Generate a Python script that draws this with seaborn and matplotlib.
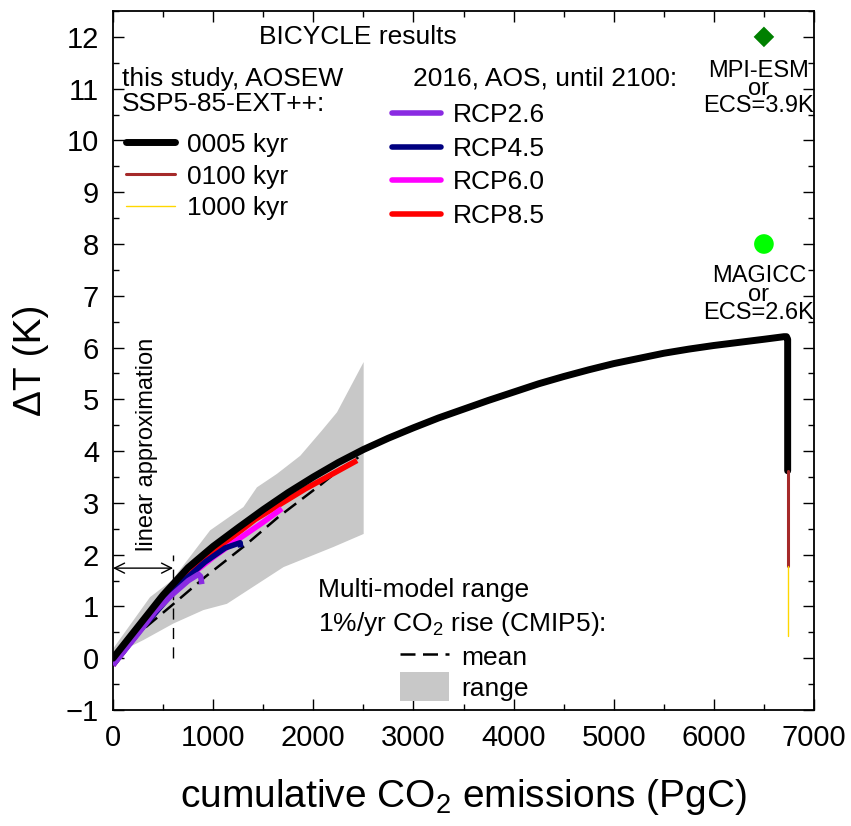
import numpy as np
import pandas as pd
import matplotlib
matplotlib.use("Agg")
import matplotlib.pyplot as plt
from matplotlib.lines import Line2D
from matplotlib.patches import Patch
import seaborn as sns

# ---------------- data ----------------
bic_x = [0, 250, 500, 750, 1000, 1250, 1500, 1750, 2000, 2250, 2500, 2750, 3000, 3250,
         3500, 3750, 4000, 4250, 4500, 4750, 5000, 5250, 5500, 5750, 6000, 6250, 6500,
         6700, 6725, 6737, 6737]
bic_y = [0.0, 0.61, 1.22, 1.75, 2.16, 2.52, 2.87, 3.20, 3.50, 3.78, 4.03, 4.25, 4.45, 4.64,
         4.81, 4.98, 5.14, 5.30, 5.44, 5.57, 5.69, 5.79, 5.89, 5.97, 6.04, 6.10, 6.16,
         6.21, 6.21, 6.16, 3.62]
k100_x = [6737, 6737]
k100_y = [3.62, 1.79]
k1000_x = [6737, 6737]
k1000_y = [1.79, 0.42]

rcp26_x = [0, 253, 420, 587, 753, 853, 875, 887]
rcp26_y = [-0.13, 0.48, 0.90, 1.22, 1.50, 1.62, 1.58, 1.43]
rcp45_x = [0, 253, 587, 720, 920, 1120, 1270, 1275]
rcp45_y = [-0.13, 0.50, 1.24, 1.52, 1.86, 2.13, 2.23, 2.14]
rcp60_x = [0, 253, 587, 760, 1000, 1253, 1487, 1687]
rcp60_y = [-0.13, 0.51, 1.26, 1.58, 1.95, 2.30, 2.61, 2.89]
rcp85_x = [0, 253, 587, 780, 920, 1420, 1920, 2437]
rcp85_y = [-0.13, 0.52, 1.28, 1.64, 1.93, 2.68, 3.27, 3.82]

mean_x = [0, 253, 587, 920, 1320, 1653, 2087, 2253, 2450]
mean_y = [0.0, 0.48, 1.02, 1.57, 2.18, 2.73, 3.37, 3.63, 3.88]

rng_up_x = [3, 370, 587, 970, 1303, 1437, 1637, 1870, 2087, 2237, 2503]
rng_up_y = [0.19, 1.18, 1.50, 2.47, 2.92, 3.30, 3.56, 3.91, 4.40, 4.75, 5.72]
rng_lo_x = [2503, 2203, 1703, 1137, 903, 603, 303, 3]
rng_lo_y = [2.40, 2.15, 1.76, 1.05, 0.93, 0.67, 0.35, 0.06]

mpi_x, mpi_y = [6500], [12.0]
magicc_x, magicc_y = [6500], [8.0]

lin_x = [600, 600]
lin_y = [0.0, 2.0]

# ---------------- style ----------------
sns.set_style("ticks")
plt.rcParams["font.family"] = ["Liberation Sans", "DejaVu Sans"]
plt.rcParams["mathtext.fontset"] = "custom"
plt.rcParams["mathtext.rm"] = "Liberation Sans"
plt.rcParams["mathtext.it"] = "Liberation Sans:italic"
for k in ["text.color", "axes.labelcolor", "xtick.color", "ytick.color", "axes.edgecolor"]:
    plt.rcParams[k] = "black"

fig = plt.figure(figsize=(8.51, 8.26), dpi=100)
ax = fig.add_axes([113 / 851, 1 - 710 / 826, 701 / 851, 699 / 826])

def df(x, y):
    return pd.DataFrame({"x": x, "y": y})

def line(x, y, **kw):
    sns.lineplot(data=df(x, y), x="x", y="y", sort=False, estimator=None,
                 errorbar=None, ax=ax, **kw)
    return ax.lines[-1]

# range polygon
ax.fill(rng_up_x + rng_lo_x, rng_up_y + rng_lo_y, color="#c8c8c8", lw=0, zorder=1)

# mean dashed
line(mean_x, mean_y, color="black", lw=1.8, zorder=2).set_dashes([6, 3])
# linear approx vertical dashed
line(lin_x, lin_y, color="black", lw=1.0, zorder=2).set_dashes([8, 6])

# RCP curves
for xs, ys, c in [(rcp85_x, rcp85_y, "#ff0000"), (rcp60_x, rcp60_y, "#ff00ff"),
                  (rcp45_x, rcp45_y, "#000080"), (rcp26_x, rcp26_y, "#8a2be2")]:
    line(xs, ys, color=c, lw=4.0, zorder=3, solid_capstyle="butt")

# BICYCLE curves
line(bic_x, bic_y, color="black", lw=5.0, zorder=4, solid_joinstyle="round")
line(k100_x, k100_y, color="#a52a2a", lw=2.2, zorder=4)
line(k1000_x, k1000_y, color="#ffd700", lw=1.0, zorder=4)

# ESM points
sns.scatterplot(data=df(mpi_x, mpi_y), x="x", y="y", ax=ax, marker="D",
                color="#008000", s=110, edgecolor="none", zorder=5)
sns.scatterplot(data=df(magicc_x, magicc_y), x="x", y="y", ax=ax, marker="o",
                color="#00ff00", s=200, edgecolor="none", zorder=5)

# ---------------- axes ----------------
ax.set_xlim(0, 7000)
ax.set_ylim(-1, 12.5)
ax.set_xticks(np.arange(0, 7001, 1000))
ax.set_xticks(np.arange(0, 7001, 500), minor=True)
ax.set_yticks(np.arange(-1, 13, 1))
ax.set_yticks(np.arange(-1, 12.6, 0.5), minor=True)
ax.tick_params(which="both", direction="in", top=True, right=True, width=1.0)
ax.tick_params(which="major", length=8, labelsize=21, pad=10)
ax.tick_params(which="minor", length=4)
for s in ax.spines.values():
    s.set_linewidth(1.3)
ax.set_xlabel("cumulative CO$_2$ emissions (PgC)", fontsize=28, labelpad=18)
ax.set_ylabel("ΔT (K)", fontsize=28, labelpad=12)

# ---------------- texts ----------------
fs = 19
ax.text(2450, 12.0, "BICYCLE results", fontsize=fs, ha="center", va="center")
ax.text(90, 11.19, "this study, AOSEW", fontsize=fs, ha="left", va="center")
ax.text(90, 10.70, "SSP5-85-EXT++:", fontsize=fs, ha="left", va="center")
ax.text(3000, 11.19, "2016, AOS, until 2100:", fontsize=fs, ha="left", va="center")

ax.text(6450, 11.0, "MPI-ESM\nor\nECS=3.9K", fontsize=17, ha="center", va="center",
        multialignment="center", linespacing=0.72)
ax.text(6450, 7.02, "MAGICC\nor\nECS=2.6K", fontsize=17, ha="center", va="center",
        multialignment="center", linespacing=0.8)

ax.text(337, 4.13, "linear approximation", fontsize=17, rotation=90, ha="center", va="center")
ax.annotate("", xy=(0, 1.74), xytext=(600, 1.74),
            arrowprops=dict(arrowstyle="<->", color="black", lw=1.0,
                            shrinkA=0, shrinkB=0, mutation_scale=18))

ax.text(2050, 1.31, "Multi-model range", fontsize=fs, ha="left", va="center")
ax.text(2050, 0.67, "1%/yr CO$_2$ rise (CMIP5):", fontsize=fs, ha="left", va="center")

# ---------------- legends ----------------
h1 = [Line2D([], [], color="black", lw=5),
      Line2D([], [], color="#a52a2a", lw=2.2),
      Line2D([], [], color="#ffd700", lw=1.0)]
leg1 = ax.legend(h1, ["0005 kyr", "0100 kyr", "1000 kyr"], loc="upper left",
                 bbox_to_anchor=(0.019, 0.826), frameon=False, fontsize=fs,
                 handlelength=1.85, handletextpad=0.45, labelspacing=0.3,
                 borderpad=0, borderaxespad=0)
ax.add_artist(leg1)

h2 = [Line2D([], [], color=c, lw=4) for c in ["#8a2be2", "#000080", "#ff00ff", "#ff0000"]]
leg2 = ax.legend(h2, ["RCP2.6", "RCP4.5", "RCP6.0", "RCP8.5"], loc="upper left",
                 bbox_to_anchor=(0.398, 0.868), frameon=False, fontsize=fs,
                 handlelength=1.85, handletextpad=0.45, labelspacing=0.36,
                 borderpad=0, borderaxespad=0)
ax.add_artist(leg2)

h3 = [Line2D([], [], color="black", lw=1.8, dashes=[6, 3]),
      Patch(facecolor="#c8c8c8", edgecolor="none")]
leg3 = ax.legend(h3, ["mean", "range"], loc="upper left",
                 bbox_to_anchor=(0.41, 0.097), frameon=False, fontsize=fs,
                 handlelength=1.85, handleheight=1.3, handletextpad=0.45,
                 labelspacing=0.05, borderpad=0, borderaxespad=0)

fig.savefig("out.png", dpi=100)
